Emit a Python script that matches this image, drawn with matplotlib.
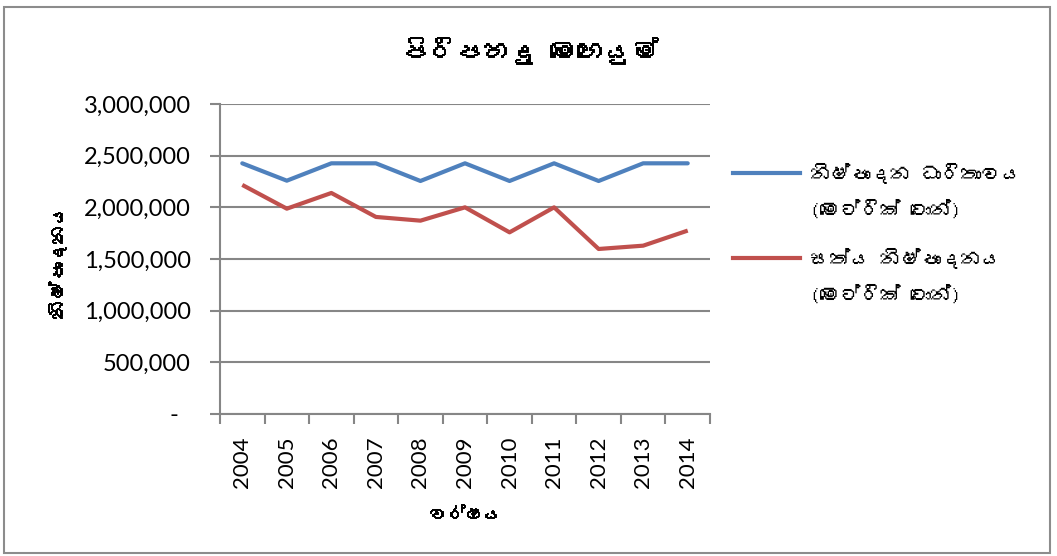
import numpy as np
import matplotlib
matplotlib.use("Agg")
import matplotlib.pyplot as plt
import matplotlib.patheffects as pe
from matplotlib import font_manager
from matplotlib.ft2font import FT2Font
from matplotlib.patches import Rectangle
from matplotlib.lines import Line2D

# data
years = ["2004", "2005", "2006", "2007", "2008", "2009", "2010", "2011", "2012", "2013", "2014"]
capacity = [2426000, 2258000, 2426000, 2426000, 2255000, 2426000, 2255000, 2426000, 2255000, 2426000, 2426000]
actual = [2217000, 1987000, 2139000, 1907000, 1871000, 2000000, 1758000, 2000000, 1597000, 1629000, 1775000]
y_ticks = [0, 500000, 1000000, 1500000, 2000000, 2500000, 3000000]

title = "පිරිපහදු මෙහෙයුම්"
x_title = "වර්ෂය"
y_title = "නිෂ්පාදනය"
unit = "(මෙට්රික් ටොන්)"
series_names = ["නිෂ්පාදන ධාරිතාවය", "සත්ය නිෂ්පාදනය"]


# look for an installed font that has Sinhala letters
def find_sinhala():
    for f in font_manager.fontManager.ttflist:
        try:
            if 0x0DC3 in FT2Font(f.fname).get_charmap():
                return f.name
        except Exception:
            pass
    return None


si = find_sinhala()
si_family = [si, "DejaVu Sans"] if si else ["DejaVu Sans"]
num_font = "Lato"
bold = [pe.withStroke(linewidth=0.7, foreground="black")]

blue = "#4F81BD"
red = "#C0504D"
grey = "#868686"

fig = plt.figure(figsize=(10.57, 5.56), dpi=100)
fig.patches.append(Rectangle((4 / 1057, 3 / 556), 1046 / 1057, 546 / 556,
                             transform=fig.transFigure, fill=False,
                             edgecolor="#8c8c8c", lw=1.5))

ax = fig.add_axes([220 / 1057, 1 - 414 / 556, 490 / 1057, 310 / 556])
x = np.arange(len(years))
ax.plot(x, capacity, color=blue, lw=3, solid_capstyle="round")
ax.plot(x, actual, color=red, lw=3, solid_capstyle="butt")

ax.set_xlim(-0.5, len(years) - 0.5)
ax.set_ylim(0, 3000000)
ax.set_yticks(y_ticks)
ax.set_yticklabels([f"{v:,.0f}" if v else "-  " for v in y_ticks],
                   fontfamily=num_font, fontsize=17)
ax.set_xticks(x)
ax.set_xticklabels(years, rotation=90, fontfamily=num_font, fontsize=16)
ax.set_xticks(np.arange(-0.5, len(years), 1), minor=True)
ax.tick_params(axis="x", which="major", length=0, pad=16)
ax.tick_params(axis="x", which="minor", length=7, width=1.5, color=grey)
ax.tick_params(axis="y", length=7, width=1.5, color=grey, pad=14)

ax.grid(axis="y", color=grey, lw=1.5)
ax.set_axisbelow(True)
for side in ["top", "right"]:
    ax.spines[side].set_visible(False)
for side in ["left", "bottom"]:
    ax.spines[side].set_color(grey)
    ax.spines[side].set_linewidth(1.5)

fig.text(530 / 1057, 1 - 50 / 556, title, ha="center", va="center",
         fontsize=19.5, family=si_family, path_effects=bold)
fig.text(465 / 1057, 1 - 515 / 556, x_title, ha="center", va="center",
         fontsize=13, family=si_family, path_effects=bold)
fig.text(57 / 1057, 1 - 262 / 556, y_title, ha="center", va="center",
         rotation=90, fontsize=13.5, family=si_family, path_effects=bold)

# legend: the line sits level with the first text line, as in the picture
for name, col, ly in zip(series_names, [blue, red], [173, 258]):
    fig.add_artist(Line2D([733 / 1057, 800 / 1057], [1 - ly / 556] * 2,
                          color=col, lw=3, transform=fig.transFigure))
    fig.text(810 / 1057, 1 - ly / 556, name, va="center", fontsize=14.5,
             family=si_family)
    fig.text(810 / 1057, 1 - (ly + 36) / 556, unit, va="center", fontsize=14.5,
             family=si_family)

fig.savefig("out.png", dpi=100)
